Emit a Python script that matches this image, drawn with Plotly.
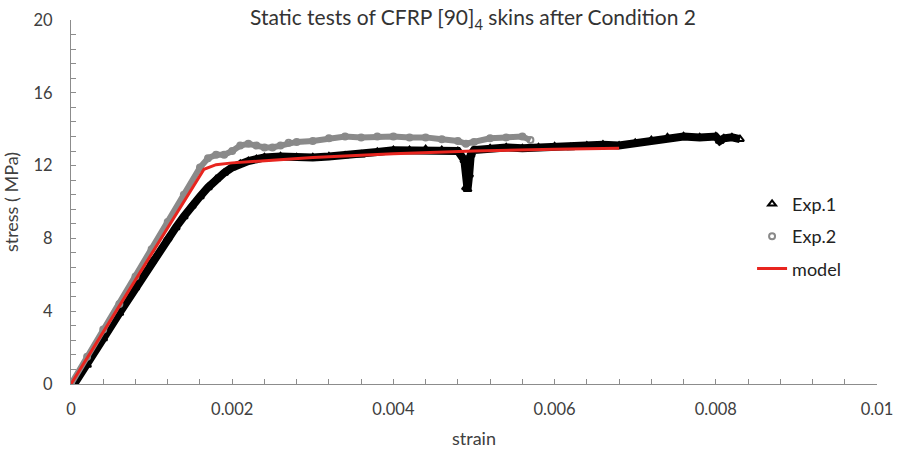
import plotly.graph_objects as go

# Exp.1 (black triangles)
exp1_strain = [0.00004, 0.0002, 0.0004, 0.0006, 0.0008, 0.0010, 0.0012, 0.0013, 0.0014, 0.0015,
               0.0016, 0.0017, 0.0018, 0.0019, 0.0020, 0.0021, 0.0022, 0.0023, 0.0024, 0.0026,
               0.0028, 0.0030, 0.0032, 0.0034, 0.0036, 0.0038, 0.0040, 0.0042, 0.0044, 0.0046,
               0.0048, 0.00488, 0.0049, 0.00492, 0.00494, 0.00496, 0.0050, 0.0052, 0.0054, 0.0056,
               0.0058, 0.0060, 0.0062, 0.0064, 0.0066, 0.0068, 0.0070, 0.0072, 0.0074, 0.0076,
               0.0078, 0.0080, 0.00805, 0.0081, 0.0082, 0.0083]
exp1_stress = [0.0, 1.05, 2.5, 3.9, 5.3, 6.7, 8.0, 8.6, 9.2, 9.8,
               10.3, 10.8, 11.25, 11.6, 11.9, 12.1, 12.25, 12.35, 12.45, 12.5,
               12.45, 12.45, 12.5, 12.55, 12.6, 12.75, 12.85, 12.85, 12.9, 12.85,
               12.8, 12.3, 10.8, 10.7, 11.5, 12.6, 12.85, 12.95, 13.0, 12.95,
               13.0, 13.05, 13.0, 13.1, 13.15, 13.1, 13.25, 13.4, 13.55, 13.6,
               13.55, 13.6, 13.35, 13.5, 13.55, 13.45]

# Exp.2 (grey circles)
exp2_strain = [0.0, 0.0002, 0.0004, 0.0006, 0.0008, 0.0010, 0.0012, 0.0014, 0.0016, 0.0017,
               0.0018, 0.0019, 0.0020, 0.0021, 0.0022, 0.0023, 0.0024, 0.0025, 0.0026, 0.0027,
               0.0028, 0.0030, 0.0032, 0.0034, 0.0036, 0.0038, 0.0040, 0.0042, 0.0044, 0.0046,
               0.0048, 0.0049, 0.0050, 0.0052, 0.0054, 0.0056, 0.0057]
exp2_stress = [0.0, 1.5, 3.0, 4.4, 5.9, 7.4, 8.9, 10.4, 11.9, 12.4,
               12.6, 12.6, 12.8, 13.1, 13.2, 13.1, 13.0, 13.0, 13.1, 13.25,
               13.3, 13.35, 13.5, 13.6, 13.55, 13.6, 13.6, 13.55, 13.55, 13.45,
               13.35, 13.2, 13.3, 13.5, 13.55, 13.6, 13.4]

# model (red line)
model_strain = [0.0, 0.00165, 0.0018, 0.0020, 0.0025, 0.0030, 0.0040, 0.0050, 0.0060, 0.0068]
model_stress = [0.0, 11.8, 12.05, 12.15, 12.3, 12.45, 12.65, 12.8, 12.9, 12.95]

FONT = "Lato"
TXT = "#404040"
AX = "#8c8c8c"
GREY = "#8a8a8a"

fig = go.Figure()
# thick bands (dense overlapping markers in the original)
fig.add_trace(go.Scatter(x=exp1_strain, y=exp1_stress, mode="lines",
                         line=dict(color="black", width=8), showlegend=False,
                         legendgroup="e1", hoverinfo="skip"))
fig.add_trace(go.Scatter(x=exp1_strain, y=exp1_stress, mode="markers", name="Exp.1",
                         legendgroup="e1",
                         marker=dict(symbol="triangle-up-open", size=7, color="black",
                                     line=dict(width=2, color="black"))))
fig.add_trace(go.Scatter(x=exp2_strain, y=exp2_stress, mode="lines",
                         line=dict(color=GREY, width=6), showlegend=False,
                         legendgroup="e2", hoverinfo="skip"))
fig.add_trace(go.Scatter(x=exp2_strain, y=exp2_stress, mode="markers", name="Exp.2",
                         legendgroup="e2",
                         marker=dict(symbol="circle-open", size=6, color=GREY,
                                     line=dict(width=2, color=GREY))))
fig.add_trace(go.Scatter(x=model_strain, y=model_stress, mode="lines", name="model",
                         legendgroup="m",
                         line=dict(color="#e8251f", width=3)))

fig.update_layout(
    width=898, height=452,
    margin=dict(l=71, r=21, t=20, b=68, autoexpand=False),
    paper_bgcolor="white", plot_bgcolor="white",
    font=dict(family=FONT, size=16, color=TXT),
    title=dict(text="Static tests of CFRP [90]<sub>4</sub> skins after Condition 2",
               x=473 / 898, xanchor="center", y=1 - 18 / 452, yanchor="middle",
               font=dict(family=FONT, size=21, color="#333333")),
    legend=dict(x=0.845, y=0.545, xanchor="left", yanchor="top",
                font=dict(family=FONT, size=18, color="#222222"),
                tracegroupgap=6, bgcolor="rgba(0,0,0,0)"),
    xaxis=dict(range=[0, 0.01], dtick=0.002, tick0=0, showgrid=False, zeroline=False,
               automargin=False,
               showline=True, linecolor=AX, linewidth=1,
               ticks="inside", ticklen=5, tickcolor=AX, tickwidth=1,
               tickformat="~g", ticklabelstandoff=10,
               tickfont=dict(size=16.5, color=TXT),
               minor=dict(dtick=0.0004, tick0=0, ticks="inside", ticklen=5,
                          tickcolor=AX, showgrid=False),
               title=dict(text="strain", standoff=14, font=dict(size=18, color=TXT))),
    yaxis=dict(range=[0, 20], dtick=4, tick0=0, showgrid=False, zeroline=False,
               automargin=False,
               showline=True, linecolor=AX, linewidth=1,
               ticks="inside", ticklen=5, tickcolor=AX, tickwidth=1,
               ticklabelstandoff=14,
               tickfont=dict(size=16.5, color=TXT),
               minor=dict(dtick=0.8, tick0=0, ticks="inside", ticklen=5,
                          tickcolor=AX, showgrid=False),
               title=dict(text="stress ( MPa)", standoff=10, font=dict(size=18, color=TXT))),
)

fig.write_html("out.html")
